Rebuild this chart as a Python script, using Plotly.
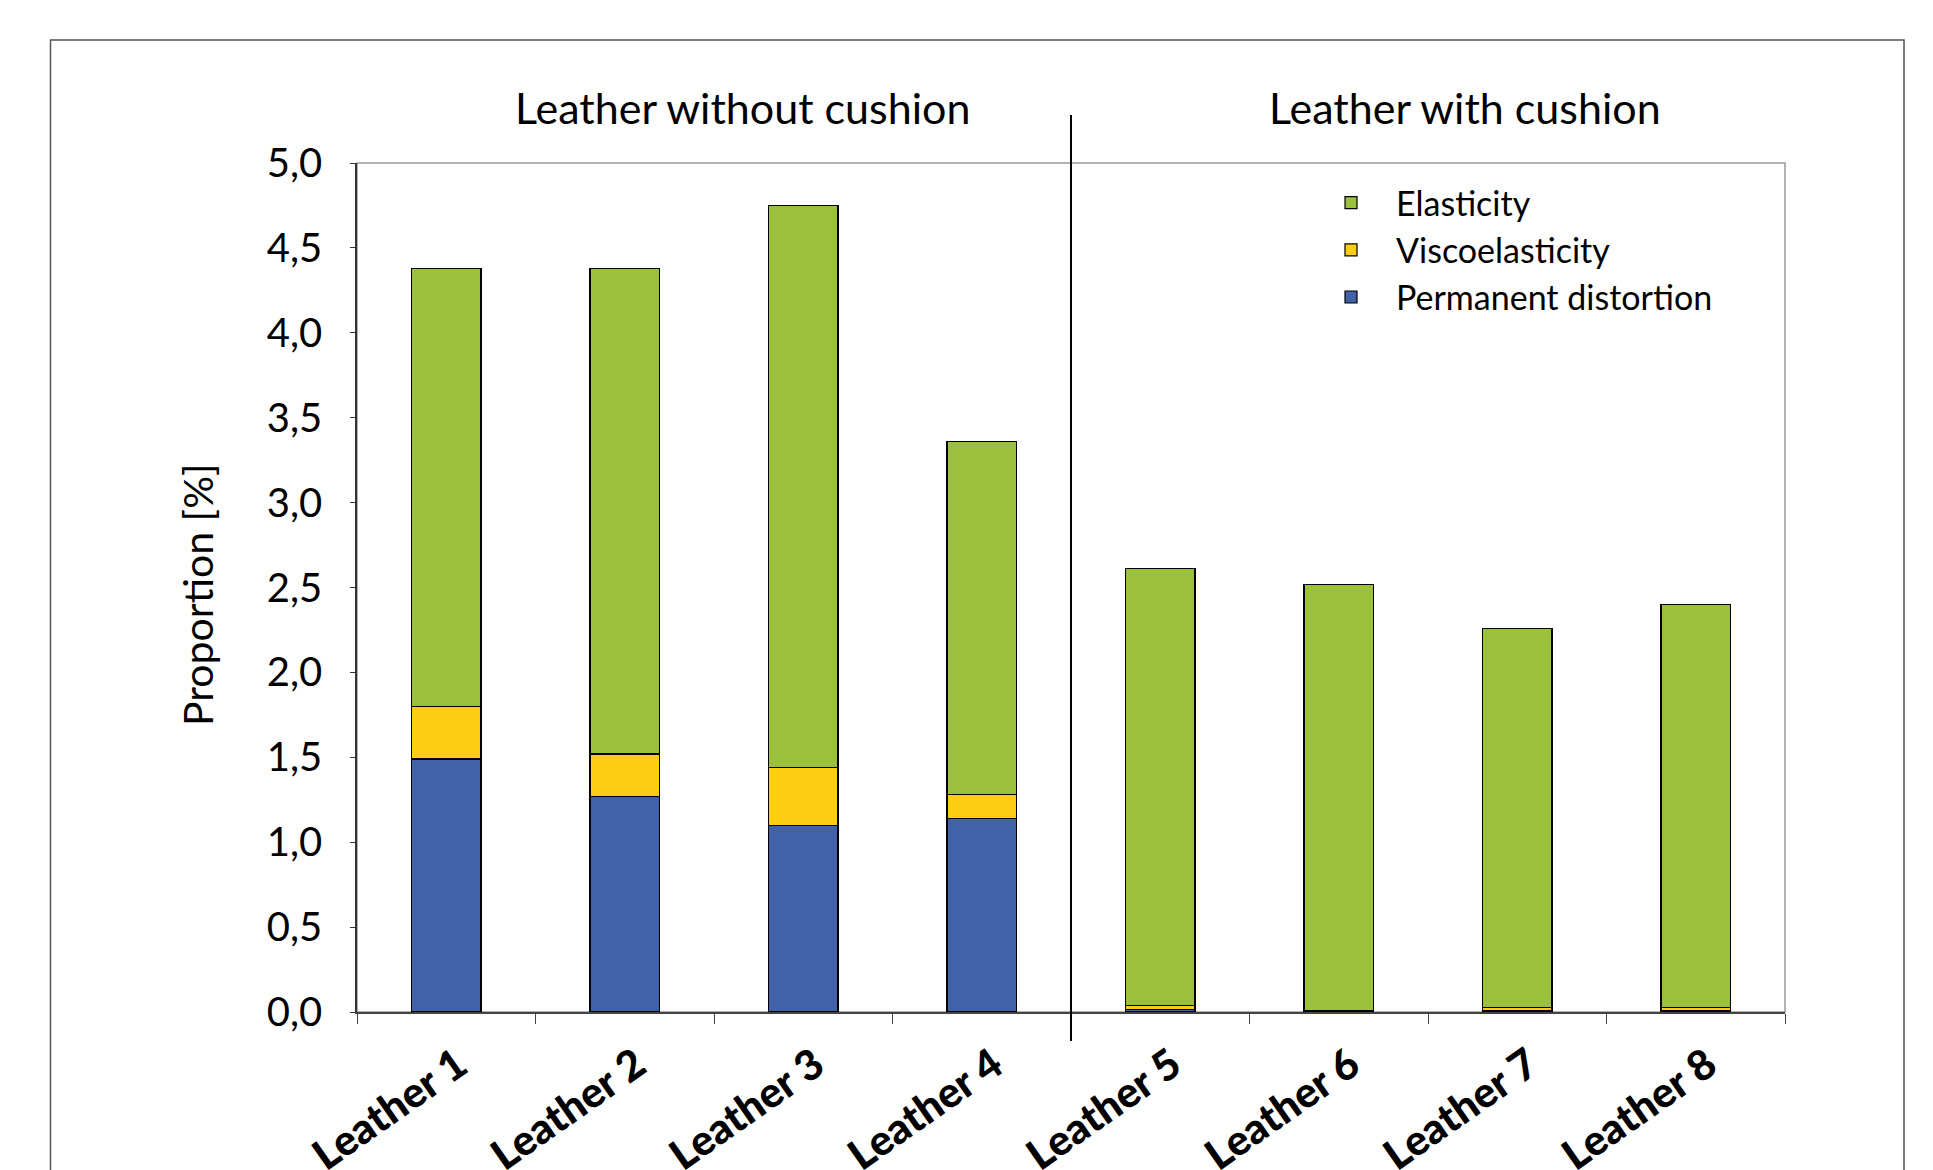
import plotly.graph_objects as go

# Leather samples and the three deformation components (in %)
samples = ["Leather 1", "Leather 2", "Leather 3", "Leather 4",
           "Leather 5", "Leather 6", "Leather 7", "Leather 8"]
permanent_distortion = [1.49, 1.27, 1.10, 1.14, 0.015, 0.005, 0.010, 0.010]
viscoelasticity = [0.31, 0.25, 0.34, 0.14, 0.025, 0.004, 0.015, 0.015]
elasticity = [2.58, 2.86, 3.31, 2.08, 2.57, 2.51, 2.235, 2.375]

group_titles = ["Leather without cushion", "Leather with cushion"]
y_ticks = [0.0, 0.5, 1.0, 1.5, 2.0, 2.5, 3.0, 3.5, 4.0, 4.5, 5.0]

COLORS = {
    "Permanent distortion": "#4162A8",
    "Viscoelasticity": "#FDCD13",
    "Elasticity": "#9BC13C",
}
FONT = "Lato, 'Open Sans', sans-serif"

fig = go.Figure()
for name, vals in [("Permanent distortion", permanent_distortion),
                   ("Viscoelasticity", viscoelasticity),
                   ("Elasticity", elasticity)]:
    fig.add_trace(go.Bar(
        x=samples, y=vals, name=name,
        marker=dict(color=COLORS[name], line=dict(color="black", width=1.2)),
    ))

W, H = 1933, 1170
L, R, T, B = 357, 1933 - 1785, 163, 1170 - 1012
pw, ph = W - L - R, H - T - B


def px_x(v):
    return (v - L) / pw


def px_y(v):
    return (H - B - v) / ph


fig.update_layout(
    width=W, height=H,
    margin=dict(l=L, r=R, t=T, b=B, pad=0, autoexpand=False),
    barmode="stack",
    bargap=0.61,
    separators=",.",
    plot_bgcolor="white",
    paper_bgcolor="white",
    font=dict(family=FONT, color="black"),
    showlegend=True,
    legend=dict(
        traceorder="reversed",
        x=px_x(1306), y=px_y(174), xanchor="left", yanchor="top",
        font=dict(size=34, family=FONT),
        bgcolor="rgba(0,0,0,0)",
        itemwidth=80,
        tracegroupgap=0,
    ),
)

fig.update_yaxes(
    range=[0, 5],
    tickvals=y_ticks,
    tickformat=".1f",
    ticks="outside", ticklen=5, tickcolor="#333",
    ticklabelstandoff=20,
    showline=True, linecolor="#333", linewidth=1.5,
    showgrid=False, zeroline=False,
    automargin=False,
    tickfont=dict(size=40, family=FONT),
)
fig.update_xaxes(
    tickson="boundaries",
    ticks="outside", ticklen=10, tickcolor="#444",
    ticklabelstandoff=10,
    ticklabelshift=12,
    showline=True, linecolor="#444", linewidth=2,
    showgrid=False,
    automargin=False,
    tickangle=-35,
    tickfont=dict(size=42, family="Lato Black, Lato, sans-serif"),
)

# y-axis title
fig.add_annotation(
    text="Proportion [%]", textangle=-90,
    xref="paper", yref="paper", x=px_x(197), y=px_y(595),
    xanchor="center", yanchor="middle",
    showarrow=False, font=dict(size=41, family=FONT),
)

# group titles above the plot
for title, cx in zip(group_titles, [742, 1465]):
    fig.add_annotation(
        text=title, xref="paper", yref="paper",
        x=px_x(cx), y=px_y(108), xanchor="center", yanchor="middle",
        showarrow=False, font=dict(size=43, family=FONT),
    )

shapes = [
    # plot area frame (top/right)
    dict(type="rect", xref="paper", yref="paper", x0=0, x1=1, y0=0, y1=1,
         line=dict(color="#999", width=1.5), layer="below"),
    # outer chart frame
    dict(type="rect", xref="paper", yref="paper",
         x0=px_x(50.5), x1=px_x(1904), y0=px_y(1250), y1=px_y(40),
         line=dict(color="#555", width=1.5)),
    # divider between the two groups
    dict(type="line", xref="x", yref="paper", x0=3.5, x1=3.5,
         y0=px_y(1041), y1=px_y(115), line=dict(color="black", width=2)),
]
fig.update_layout(shapes=shapes)

fig.write_html("out.html")
